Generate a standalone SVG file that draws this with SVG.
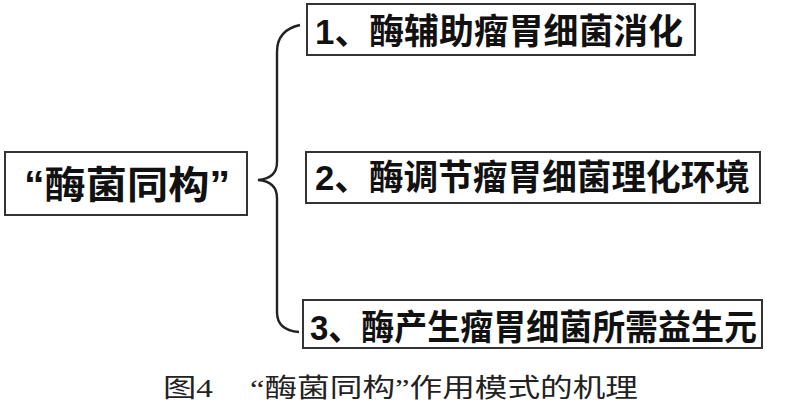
<svg xmlns="http://www.w3.org/2000/svg" width="800" height="409" viewBox="0 0 800 409">
<style>
.box{fill:#fff;stroke:#333;stroke-width:2}
.t{font-family:"Liberation Sans","Noto Sans CJK SC",sans-serif;font-weight:bold;fill:#111}
.cap{font-family:"Liberation Serif","Noto Sans CJK SC",serif;font-weight:400;fill:#222;font-size:26px}
.br{fill:none;stroke:#222;stroke-width:2.4}
</style>
<rect width="800" height="409" fill="#fff"/>
<g id="connectors">
<path class="br" d="M300,25 C286,28 277,36 277,52 L277,162 C277,174 270,179 258,180 C270,181 277,186 277,198 L277,312 C277,325 285,331 299,332"/>
</g>
<g id="root">
<rect class="box" x="5" y="152" width="242" height="63"/>
<text class="t" x="24" y="198" font-size="38" textLength="206" lengthAdjust="spacingAndGlyphs">“酶菌同构”</text>
</g>
<g id="n1">
<rect class="box" x="307" y="4" width="388" height="51"/>
<text class="t" x="315" y="44" font-size="35" textLength="368" lengthAdjust="spacingAndGlyphs">1、酶辅助瘤胃细菌消化</text>
</g>
<g id="n2">
<rect class="box" x="306" y="152" width="454" height="51"/>
<text class="t" x="315" y="190" font-size="35" textLength="435" lengthAdjust="spacingAndGlyphs">2、酶调节瘤胃细菌理化环境</text>
</g>
<g id="n3">
<rect class="box" x="303" y="300" width="459" height="48"/>
<text class="t" x="310" y="340" font-size="35" textLength="447" lengthAdjust="spacingAndGlyphs">3、酶产生瘤胃细菌所需益生元</text>
</g>
<g id="caption">
<text class="cap" x="163" y="397" textLength="50" lengthAdjust="spacingAndGlyphs">图4</text>
<text class="cap" x="250" y="397" textLength="388" lengthAdjust="spacingAndGlyphs">“酶菌同构”作用模式的机理</text>
</g>
</svg>
